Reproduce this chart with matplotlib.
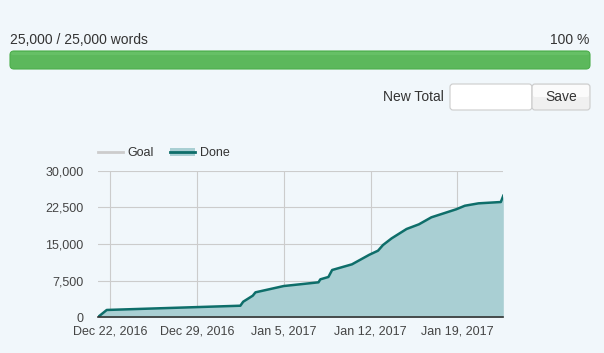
import datetime as dt
import matplotlib
matplotlib.use("Agg")
import matplotlib.pyplot as plt
import matplotlib.dates as mdates
from matplotlib.patches import FancyBboxPatch, Patch
from matplotlib.lines import Line2D
from matplotlib.legend_handler import HandlerTuple

plt.rcParams['font.family'] = ['Liberation Sans', 'DejaVu Sans']

# progress info
words_done = 25000
words_goal = 25000

# days after Dec 21, 2016 and cumulative word count
day_offsets = [0.0, 0.73, 11.5, 11.73, 12.5, 12.72, 15.0, 16.3, 17.8, 17.95,
               18.6, 18.9, 20.5, 21.9, 22.6, 23.0, 23.7, 24.9, 25.9, 26.9,
               28.9, 29.6, 30.7, 32.5, 32.7]
words = [0, 1500, 2370, 3190, 4420, 5110, 6400, 6750, 7160, 7770,
         8250, 9680, 10840, 12800, 13630, 14790, 16160, 18070, 19030, 20460,
         22100, 22830, 23320, 23590, 24880]
tick_dates = ["2016-12-22", "2016-12-29", "2017-01-05", "2017-01-12", "2017-01-19"]
y_ticks = [0, 7500, 15000, 22500, 30000]

start = dt.datetime(2016, 12, 21)
dates = [start + dt.timedelta(days=d) for d in day_offsets]

bg = "#f1f7fb"
W, H = 604, 353
fig = plt.figure(figsize=(W / 100, H / 100), dpi=100, facecolor=bg)

# page widgets drawn in pixel coords
page = fig.add_axes([0, 0, 1, 1])
page.set_xlim(0, W)
page.set_ylim(H, 0)
page.axis("off")
page.set_facecolor(bg)

page.text(10, 40, f"{words_done:,} / {words_goal:,} words", fontsize=10,
          color="#333333", va="center", ha="left")
page.text(589, 40, f"{round(100 * words_done / words_goal)} %", fontsize=10,
          color="#333333", va="center", ha="right")

page.add_patch(FancyBboxPatch((10, 51), 580 * words_done / words_goal, 18,
                              boxstyle="round,pad=0,rounding_size=4",
                              fc="#5cb85c", ec="#4cae4c", lw=0.8))
page.add_patch(FancyBboxPatch((11, 52), 578 * words_done / words_goal, 3,
                              boxstyle="round,pad=0,rounding_size=1.5",
                              fc="#66c066", ec="none"))

page.text(444, 97, "New Total", fontsize=10, color="#333333", va="center", ha="right")
page.add_patch(FancyBboxPatch((450, 84), 82, 26, boxstyle="round,pad=0,rounding_size=3",
                              fc="white", ec="#cccccc", lw=0.8))
page.add_patch(FancyBboxPatch((532, 84), 58, 26, boxstyle="round,pad=0,rounding_size=3",
                              fc="#f0f0f0", ec="#cccccc", lw=0.8))
page.add_patch(FancyBboxPatch((533, 85), 56, 12, boxstyle="round,pad=0,rounding_size=2",
                              fc="#fbfbfb", ec="none"))
page.text(561, 97, "Save", fontsize=10, color="#333333", va="center", ha="center")

# chart
ax = fig.add_axes([97.7 / W, 35.7 / H, 405.6 / W, 146.6 / H])
ax.set_facecolor(bg)
ax.fill_between(dates, words, 0, color="#a9cfd3", lw=0)
ax.plot(dates, words, color="#0e6e6a", lw=1.8, solid_joinstyle="round")

ax.set_xlim(start, start + dt.timedelta(days=32.7))
ax.set_ylim(0, 30000)
ax.set_yticks(y_ticks)
ax.yaxis.set_major_formatter(matplotlib.ticker.FuncFormatter(lambda v, p: f"{int(v):,}"))
ax.set_xticks([dt.datetime.strptime(t, "%Y-%m-%d") for t in tick_dates])
ax.xaxis.set_major_formatter(mdates.DateFormatter("%b %-d, %Y"))
ax.grid(True, color="#cccccc", lw=0.8)
ax.set_axisbelow(True)
ax.tick_params(length=0, labelsize=9, colors="#444444")
ax.tick_params(axis="x", pad=6)
ax.tick_params(axis="y", pad=10)
for s in ["top", "right", "left"]:
    ax.spines[s].set_visible(False)
ax.spines["bottom"].set_color("#333333")
ax.spines["bottom"].set_linewidth(1.2)

goal_h = Line2D([], [], color="#cccccc", lw=2)
done_h = (Patch(fc="#a9cfd3", ec="none"), Line2D([], [], color="#0e6e6a", lw=2))
leg = ax.legend([goal_h, done_h], ["Goal", "Done"], loc="lower left",
                bbox_to_anchor=(-0.028, 1.0), ncol=2, frameon=False, fontsize=9,
                handlelength=2.0, handletextpad=0.4, columnspacing=1.3,
                handler_map={tuple: HandlerTuple(ndivide=1, pad=0)})
for t in leg.get_texts():
    t.set_color("#333333")

fig.savefig("out.png", dpi=100, facecolor=bg)
